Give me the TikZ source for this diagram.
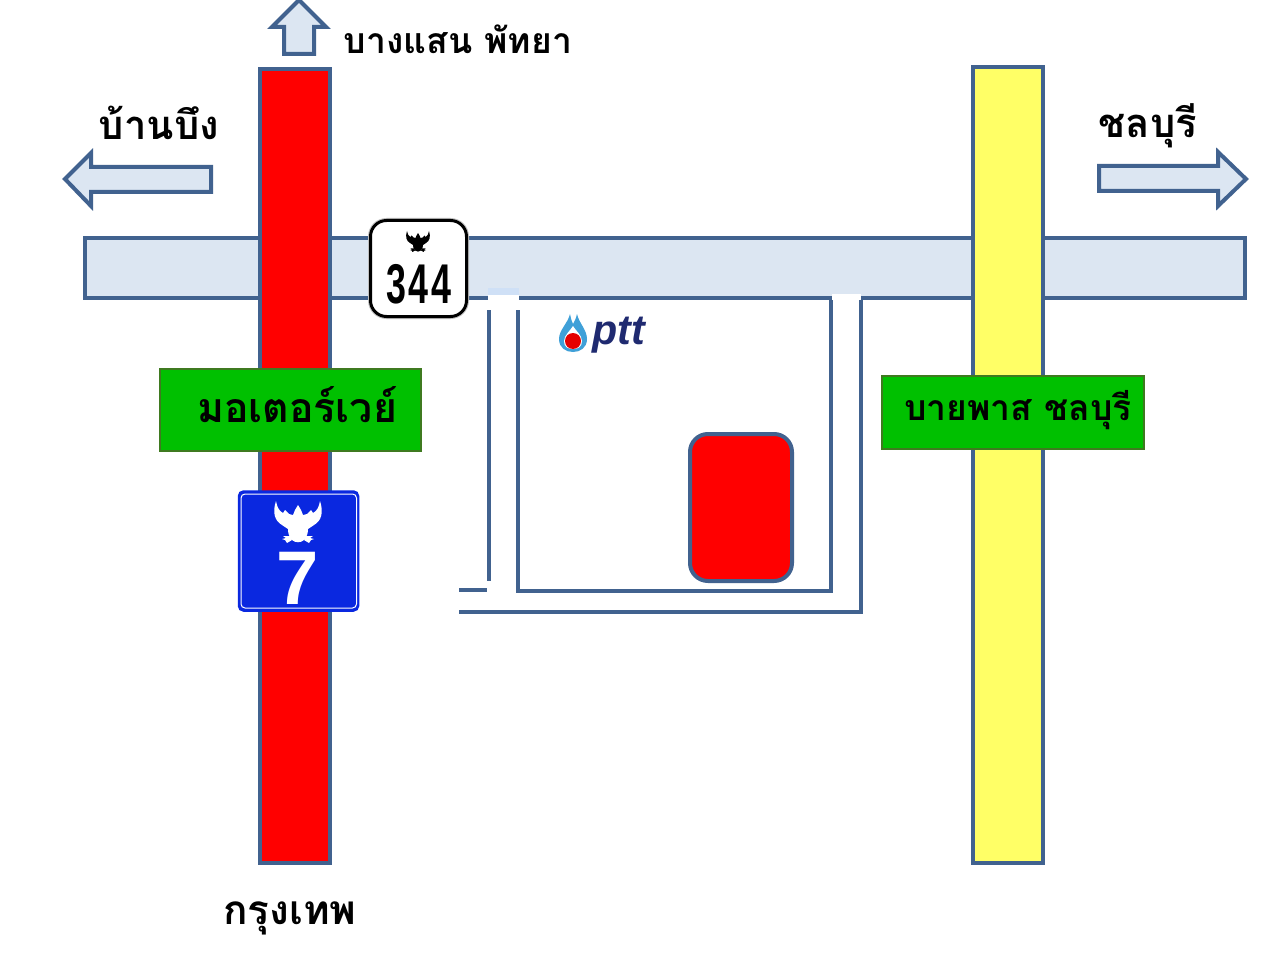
\documentclass[tikz,border=0pt]{standalone}
\usepackage{fontspec}
\newfontfamily\thaifont[Script=Thai]{Loma}
\setmainfont{Liberation Sans}
\definecolor{edgeblue}{HTML}{41628F}
\definecolor{lightroad}{HTML}{DCE6F2}
\definecolor{signblue}{HTML}{0A28E0}
\definecolor{signgreen}{HTML}{00C000}
\definecolor{greenedge}{HTML}{3F7A20}
\definecolor{roadyellow}{HTML}{FFFF66}
\definecolor{pttnavy}{HTML}{1F2A70}
\definecolor{pttblue}{HTML}{3FA0D8}
\definecolor{patchblue}{HTML}{CFE0F6}
\tikzset{
  x=1pt,y=-1pt,
  boxat/.style={anchor=north west,inner sep=0pt,outer sep=0pt},
  road/.style={boxat,draw=edgeblue,line width=4pt},
  greenbox/.style={boxat,draw=greenedge,line width=1.2pt,fill=signgreen},
  arrowshape/.style={draw=edgeblue,line width=4pt,fill=lightroad,line join=miter},
  wall/.style={draw=edgeblue,line width=4pt},
  thaibold/.style={font=\thaifont\bfseries\fontsize{#1}{#1}\selectfont,text=black,inner sep=0pt}
}
\newcommand{\garudashape}[1]{%
  \fill[#1] (-22,-20) .. controls (-26,-8) and (-23,0) .. (-16,4)
     -- (-10,8) .. controls (-10,12) and (-9,16) .. (-6,19)
     .. controls (-3,22) and (3,22) .. (6,19)
     .. controls (9,16) and (10,12) .. (10,8)
     -- (16,4) .. controls (23,0) and (26,-8) .. (22,-20)
     .. controls (21,-14) and (19,-10) .. (15,-8)
     -- (13,-11) -- (9,-7) -- (5,-6) -- (3,-11) -- (0,-16) -- (-3,-11) -- (-5,-6) -- (-9,-7) -- (-13,-11) -- (-15,-8)
     .. controls (-19,-10) and (-21,-14) .. (-22,-20) -- cycle;
  \fill[#1] (-8,15) -- (-15,15) -- (-12,17) -- (-16,18) -- (-13,19) -- (-11,22) -- (-6,19) -- cycle;
  \fill[#1] (8,15) -- (15,15) -- (12,17) -- (16,18) -- (13,19) -- (11,22) -- (6,19) -- cycle;}
\begin{document}
\begin{tikzpicture}
\useasboundingbox (0,0) rectangle (1280,960);
\fill[white] (0,0) rectangle (1280,960);
% horizontal road
\node[road,fill=lightroad,minimum width=1160pt,minimum height=60pt] (hroad) at (85,238) {};
% property walls
\fill[white] (489,296) rectangle (518,592);
\fill[white] (832,296) rectangle (861,592);
\fill[white] (459,590) rectangle (861,612);
\fill[patchblue] (488,288) rectangle (519,295);
\fill[white] (488,295) rectangle (519,301);
\fill[white] (832,294) rectangle (861,301);
\coordinate (wa) at (459,590);
\coordinate (wb) at (487,590);
\coordinate (wc) at (489,310);
\coordinate (wd) at (518,310);
\coordinate (we) at (518,591);
\coordinate (wf) at (831,591);
\coordinate (wg) at (831,300);
\coordinate (wh) at (861,300);
\coordinate (wi) at (861,612);
\coordinate (wj) at (459,612);
\draw[wall] (wa) -- (wb);
\draw[wall] (wc) -- (489,581);
\draw[wall] (wd) -- (518,581);
\draw[wall,line width=3.5pt] (518,581) -- (we) -- (wf) -- (831,570);
\draw[wall] (831,571) -- (wg);
\draw[wall] (wh) -- (861,570);
\draw[wall,line width=3.5pt] (861,570) -- (wi) -- (wj);
% vertical roads
\node[road,fill=red,minimum width=70pt,minimum height=794pt] (redroad) at (260,69) {};
\node[road,fill=roadyellow,minimum width=70pt,minimum height=796pt] (yellowroad) at (973,67) {};
% building
\node[boxat,draw=edgeblue,line width=4pt,fill=red,rounded corners=18pt,minimum width=102pt,minimum height=147pt] (building) at (690,434) {};
% arrows
\draw[arrowshape] (299,0) -- (326,27) -- (314,27) -- (314,54) -- (284,54) -- (284,27) -- (272,27) -- cycle;
\draw[arrowshape] (65,179) -- (91,153) -- (91,167) -- (211,167) -- (211,192) -- (91,192) -- (91,206) -- cycle;
\draw[arrowshape] (1246,179) -- (1218,152) -- (1218,166) -- (1099,166) -- (1099,191) -- (1218,191) -- (1218,206) -- cycle;
% green boxes
\node[greenbox,minimum width=261pt,minimum height=82pt] (mwbox) at (160,369) {};
\node[thaibold=41] (mwtext) at (297,405) {มอเตอร์เวย์};
\node[greenbox,minimum width=262pt,minimum height=73pt] (bpbox) at (882,376) {};
\node[thaibold=35.5] (bptext) at (1018,410) {บายพาส ชลบุรี};
% place labels
\node[thaibold=35.5] (bs) at (458,39) {บางแสน พัทยา};
\node[thaibold=40] (bb) at (159,123) {บ้านบึง};
\node[thaibold=40] (cb) at (1148,126) {ชลบุรี};
\node[thaibold=40.5] (bk) at (290,918) {กรุงเทพ};
% sign 344
\node[boxat,draw=black!25,line width=1pt,rounded corners=18pt,minimum width=100pt,minimum height=100pt] (s344halo) at (368.5,218.5) {};
\node[boxat,draw=black,line width=3pt,fill=white,rounded corners=16pt,minimum width=96pt,minimum height=96pt] (s344) at (370.5,220.5) {};
\node[inner sep=0pt,font=\bfseries\fontsize{56}{56}\selectfont\addfontfeature{LetterSpace=7},xscale=0.64] (n344) at (419,284) {344};
\begin{scope}[shift={(418,241)},scale=0.5]\garudashape{black}\end{scope}
% sign 7
\node[boxat,draw=signblue,line width=1.5pt,fill=signblue,rounded corners=5pt,minimum width=120pt,minimum height=120pt] (s7) at (238.5,491) {};
\draw[white,line width=1pt,rounded corners=4pt] (241,494) rectangle (356.5,608);
\node[inner sep=0pt,font=\bfseries\fontsize{76}{76}\selectfont,text=white] (n7) at (298,578) {7};
\begin{scope}[shift={(298,521)}]\garudashape{white}\end{scope}
% ptt logo
\fill[pttblue] (570,314) .. controls (571,319) and (572,322) .. (573,324)
  .. controls (574,322) and (576,319) .. (577,314)
  .. controls (579,323) and (587,330) .. (587,339)
  .. controls (587,348) and (580,352) .. (573,352)
  .. controls (566,352) and (559,348) .. (559,339)
  .. controls (559,330) and (568,323) .. (570,314) -- cycle;
\fill[white] (573,326) .. controls (575,330) and (582,335) .. (582,341)
  .. controls (582,347) and (578,349) .. (573,349)
  .. controls (568,349) and (564,347) .. (564,341)
  .. controls (564,335) and (571,330) .. (573,326) -- cycle;
\fill[red!90!black] (573,341) circle (8pt);
\node[inner sep=0pt,font=\bfseries\itshape\fontsize{42}{42}\selectfont,text=pttnavy,xscale=0.98] (ptt) at (619,335) {ptt};
\end{tikzpicture}
\end{document}
